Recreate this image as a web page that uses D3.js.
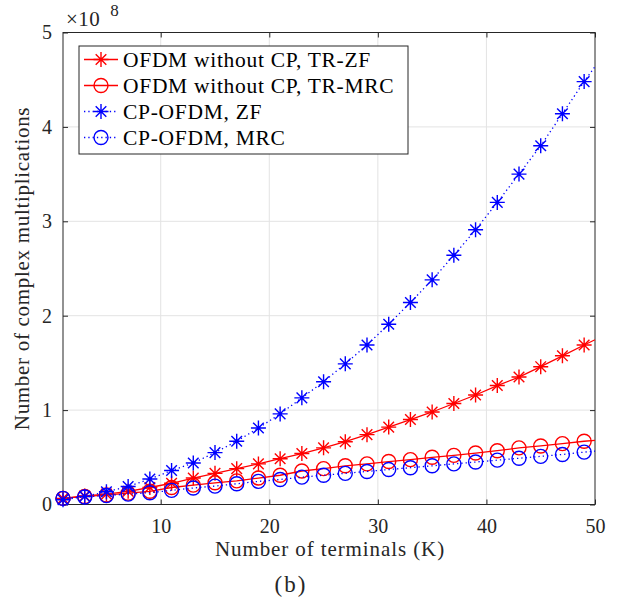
<!DOCTYPE html>
<html lang="en">
<head>
<meta charset="UTF-8">
<title>Complex multiplications vs terminals</title>
<script src="https://d3js.org/d3.v7.min.js"></script>
<style>
    body { margin: 0; background: #fff; }
    svg { display: block; }
</style>
</head>
<body>
<svg></svg>
<script>
    // K values: markers at odd K, curves end at K = 50
    const terminals = [1, 3, 5, 7, 9, 11, 13, 15, 17, 19, 21, 23, 25, 27, 29, 31, 33, 35, 37, 39, 41, 43, 45, 47, 49, 50];
    // values in units of 1e8
    const trZF  = [0.065, 0.09, 0.11, 0.14, 0.18, 0.225, 0.28, 0.33, 0.38, 0.43, 0.485, 0.54, 0.60, 0.665, 0.74, 0.82, 0.90, 0.98, 1.07, 1.16, 1.26, 1.35, 1.46, 1.575, 1.69, 1.745];
    const trMRC = [0.065, 0.085, 0.10, 0.12, 0.14, 0.18, 0.205, 0.23, 0.25, 0.28, 0.31, 0.355, 0.38, 0.41, 0.43, 0.455, 0.475, 0.50, 0.52, 0.545, 0.57, 0.60, 0.62, 0.645, 0.67, 0.68];
    const cpZF  = [0.05, 0.085, 0.135, 0.19, 0.27, 0.36, 0.44, 0.55, 0.67, 0.81, 0.96, 1.13, 1.30, 1.49, 1.69, 1.91, 2.14, 2.38, 2.64, 2.91, 3.20, 3.50, 3.80, 4.14, 4.48, 4.64];
    const cpMRC = [0.065, 0.08, 0.095, 0.11, 0.125, 0.15, 0.175, 0.195, 0.22, 0.245, 0.265, 0.29, 0.31, 0.33, 0.35, 0.37, 0.39, 0.41, 0.43, 0.45, 0.47, 0.49, 0.51, 0.53, 0.555, 0.565];
    const xTicks = [10, 20, 30, 40, 50];
    const yTicks = [0, 1, 2, 3, 4, 5];

    const series = [
        { name: "OFDM without CP, TR-ZF",  values: trZF,  color: "#ff0000", marker: "star",   dash: null },
        { name: "OFDM without CP, TR-MRC", values: trMRC, color: "#ff0000", marker: "circle", dash: null },
        { name: "CP-OFDM, ZF",             values: cpZF,  color: "#0000ff", marker: "star",   dash: "1.3,3" },
        { name: "CP-OFDM, MRC",            values: cpMRC, color: "#0000ff", marker: "circle", dash: "1.3,3" }
    ];

    const width = 621, height = 607;
    const pLeft = 63, pRight = 595, pTop = 32.5, pBottom = 504.5;
    const serif = "Liberation Serif, Tinos, Times New Roman, Times, Noto Serif, DejaVu Serif, serif";
    const axisColor = "#262626";

    const svg = d3.select("svg").attr("width", width).attr("height", height);

    const x = d3.scaleLinear().domain([1, 50]).range([pLeft, pRight]);
    const y = d3.scaleLinear().domain([0, 5]).range([pBottom, pTop]);

    // grid
    svg.append("g")
        .selectAll("line").data(xTicks.slice(0, -1)).join("line")
        .attr("x1", d => x(d)).attr("x2", d => x(d))
        .attr("y1", pTop).attr("y2", pBottom)
        .attr("stroke", "#e3e3e3").attr("stroke-width", 1);
    svg.append("g")
        .selectAll("line").data(yTicks.slice(1, -1)).join("line")
        .attr("x1", pLeft).attr("x2", pRight)
        .attr("y1", d => y(d)).attr("y2", d => y(d))
        .attr("stroke", "#e3e3e3").attr("stroke-width", 1);

    // axes (inward ticks on all four sides, MATLAB box style)
    function styleAxis(g) {
        g.attr("font-family", serif);
        g.select(".domain").remove();
        g.selectAll(".tick line").attr("stroke", axisColor);
        g.selectAll(".tick text").attr("font-size", 20).attr("fill", axisColor);
    }
    svg.append("g").attr("transform", `translate(0,${pBottom})`)
        .call(d3.axisBottom(x).tickValues(xTicks).tickSize(-5).tickPadding(14).tickFormat(d3.format("d")))
        .call(styleAxis);
    svg.append("g").attr("transform", `translate(0,${pTop})`)
        .call(d3.axisTop(x).tickValues(xTicks).tickSize(-5).tickFormat(""))
        .call(styleAxis);
    svg.append("g").attr("transform", `translate(${pLeft},0)`)
        .call(d3.axisLeft(y).tickValues(yTicks).tickSize(-5).tickPadding(11).tickFormat(d3.format("d")))
        .call(styleAxis);
    svg.append("g").attr("transform", `translate(${pRight},0)`)
        .call(d3.axisRight(y).tickValues(yTicks).tickSize(-5).tickFormat(""))
        .call(styleAxis);
    svg.append("rect")
        .attr("x", pLeft).attr("y", pTop)
        .attr("width", pRight - pLeft).attr("height", pBottom - pTop)
        .attr("fill", "none").attr("stroke", axisColor).attr("stroke-width", 1);

    // series
    const line = d3.line().x(d => x(d[0])).y(d => y(d[1]));
    const starPath = r => {
        const d = r * Math.SQRT1_2;
        return `M${-r},0L${r},0M0,${-r}L0,${r}M${-d},${-d}L${d},${d}M${-d},${d}L${d},${-d}`;
    };
    function drawMarker(g, type, color) {
        if (type === "star") {
            g.append("path").attr("d", starPath(7.5)).attr("stroke", color)
                .attr("stroke-width", 1.4).attr("fill", "none");
        } else {
            g.append("circle").attr("r", 7).attr("stroke", color)
                .attr("stroke-width", 1.4).attr("fill", "none");
        }
    }

    const plot = svg.append("g");
    series.forEach(s => {
        const pts = terminals.map((k, i) => [k, s.values[i]]);
        plot.append("path").datum(pts)
            .attr("d", line)
            .attr("fill", "none")
            .attr("stroke", s.color)
            .attr("stroke-width", 1.3)
            .attr("stroke-dasharray", s.dash);
        pts.slice(0, -1).forEach(p => {
            const g = plot.append("g").attr("transform", `translate(${x(p[0])},${y(p[1])})`);
            drawMarker(g, s.marker, s.color);
        });
    });

    function addText(parent, size, color) {
        return parent.append("text")
            .attr("font-size", size)
            .attr("fill", color || axisColor)
            .attr("font-family", serif);
    }

    // legend
    const legend = svg.append("g");
    legend.append("rect")
        .attr("x", 79).attr("y", 46).attr("width", 329).attr("height", 108)
        .attr("fill", "#fff").attr("stroke", axisColor).attr("stroke-width", 1);
    series.forEach((s, i) => {
        const ly = 59.5 + i * 26;
        legend.append("line")
            .attr("x1", 84).attr("x2", 118).attr("y1", ly).attr("y2", ly)
            .attr("stroke", s.color).attr("stroke-width", 1.3)
            .attr("stroke-dasharray", s.dash);
        drawMarker(legend.append("g").attr("transform", `translate(101,${ly})`), s.marker, s.color);
        addText(legend, 21.5, "#000")
            .attr("x", 123).attr("y", ly + 7)
            .attr("letter-spacing", 0.7)
            .text(s.name);
    });

    // exponent
    const ex = addText(svg, 21).attr("x", 66).attr("y", 26).attr("letter-spacing", 0.5);
    ex.append("tspan").text("×10");
    ex.append("tspan").attr("dx", 10).attr("dy", -10).attr("font-size", 17).text("8");

    // axis labels
    addText(svg, 21)
        .attr("x", (pLeft + pRight) / 2 + 1).attr("y", 556)
        .attr("text-anchor", "middle").attr("letter-spacing", 0.9)
        .text("Number of terminals (K)");
    addText(svg, 21)
        .attr("transform", `translate(29,${(pTop + pBottom) / 2}) rotate(-90)`)
        .attr("text-anchor", "middle").attr("letter-spacing", 0.7)
        .text("Number of complex multiplications");
    addText(svg, 23)
        .attr("x", 291).attr("y", 592)
        .attr("text-anchor", "middle").attr("letter-spacing", 2)
        .text("(b)");
</script>
</body>
</html>
